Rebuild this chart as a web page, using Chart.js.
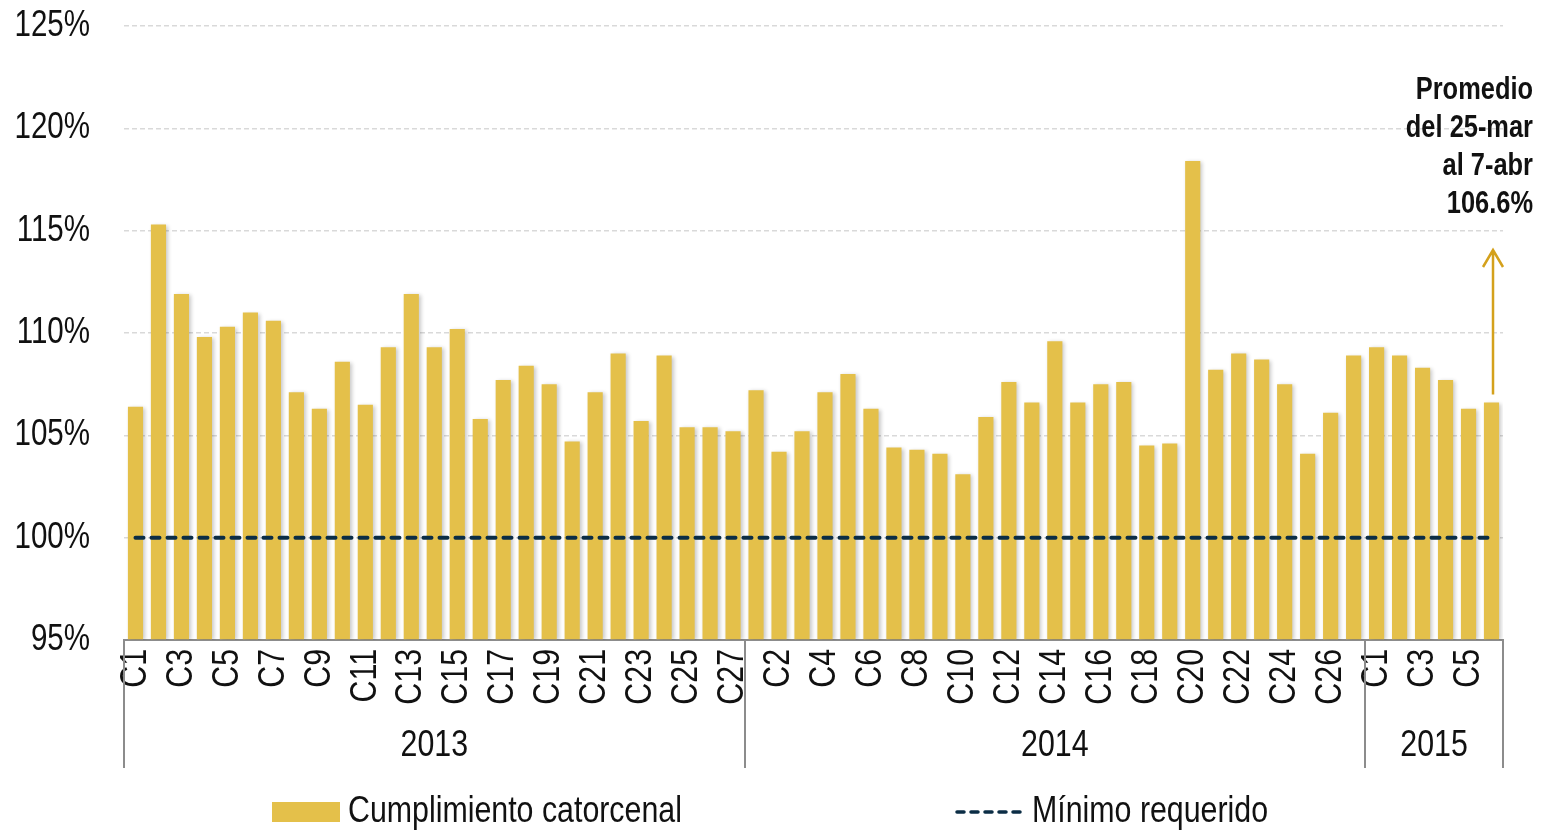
<!DOCTYPE html>
<html>
<head>
<meta charset="utf-8">
<title>Cumplimiento catorcenal</title>
<script src="https://cdn.jsdelivr.net/npm/chart.js@4.4.1/dist/chart.umd.min.js"></script>
<style>
  html, body { margin: 0; padding: 0; background: #fff; }
  #wrap { width: 1555px; height: 834px; }
</style>
</head>
<body>
<div id="wrap"><canvas id="chart"></canvas></div>
<script>
// no hay Arial Narrow: se usa Liberation Sans comprimida en horizontal
const FONT = '"Liberation Sans", Arial, sans-serif';
const NARROW = 0.82;

// datos
const years = ['2013', '2014', '2015'];
const periodsPerYear = [27, 27, 6];
const cumplimiento2013 = [106.4, 115.3, 111.9, 109.8, 110.3, 111.0, 110.6, 107.1, 106.3, 108.6,
  106.5, 109.3, 111.9, 109.3, 110.2, 105.8, 107.7, 108.4, 107.5, 104.7,
  107.1, 109.0, 105.7, 108.9, 105.4, 105.4, 105.2];
const cumplimiento2014 = [107.2, 104.2, 105.2, 107.1, 108.0, 106.3, 104.4, 104.3, 104.1, 103.1,
  105.9, 107.6, 106.6, 109.6, 106.6, 107.5, 107.6, 104.5, 104.6, 118.4,
  108.2, 109.0, 108.7, 107.5, 104.1, 106.1, 108.9];
const cumplimiento2015 = [109.3, 108.9, 108.3, 107.7, 106.3, 106.6];
const minimoRequerido = 100;
const yMin = 95, yMax = 125, yStep = 5;
const annotationLines = ['Promedio', 'del 25-mar', 'al 7-abr', '106.6%'];

const BAR_COLOR = '#E4C04A';
const LINE_COLOR = '#0B2D45';
const ARROW_COLOR = '#D4A11C';

// etiquetas C1..Cn por año
const labels = [];
periodsPerYear.forEach(n => {
  for (let i = 1; i <= n; i++) labels.push('C' + i);
});
const valores = [...cumplimiento2013, ...cumplimiento2014, ...cumplimiento2015];
const minimo = labels.map(() => minimoRequerido);

// todo el texto del canvas se dibuja comprimido (efecto "narrow")
const canvas = document.getElementById('chart');
const context = canvas.getContext('2d');
const rawFillText = CanvasRenderingContext2D.prototype.fillText;
context.fillText = function (text, x, y, maxWidth) {
  this.save();
  this.translate(x, y);
  this.scale(NARROW, 1);
  if (maxWidth === undefined) rawFillText.call(this, text, 0, 0);
  else rawFillText.call(this, text, 0, 0, maxWidth / NARROW);
  this.restore();
};

// sombra suave de las barras
const barShadow = {
  id: 'barShadow',
  beforeDatasetDraw(chart, args) {
    if (args.meta.type !== 'bar') return;
    const ctx = chart.ctx;
    ctx.save();
    ctx.shadowColor = 'rgba(0,0,0,0.22)';
    ctx.shadowBlur = 4;
    ctx.shadowOffsetX = 2;
    ctx.shadowOffsetY = 1;
  },
  afterDatasetDraw(chart, args) {
    if (args.meta.type !== 'bar') return;
    chart.ctx.restore();
  }
};

// años, separadores, leyenda y nota del promedio
const extras = {
  id: 'extras',
  afterDraw(chart) {
    const ctx = chart.ctx;
    const x = chart.scales.x;
    const y = chart.scales.y;
    const area = chart.chartArea;
    const step = x.getPixelForValue(1) - x.getPixelForValue(0);

    ctx.save();
    // separadores de año
    let start = 0;
    const bounds = [x.getPixelForValue(0) - step / 2];
    periodsPerYear.forEach(n => {
      start += n;
      bounds.push(x.getPixelForValue(start - 1) + step / 2);
    });
    ctx.strokeStyle = '#8C8C8C';
    ctx.lineWidth = 2;
    bounds.forEach(b => {
      ctx.beginPath();
      ctx.moveTo(Math.round(b), area.bottom);
      ctx.lineTo(Math.round(b), area.bottom + 128);
      ctx.stroke();
    });
    ctx.fillStyle = '#111';
    ctx.font = '37px ' + FONT;
    ctx.textAlign = 'center';
    ctx.textBaseline = 'middle';
    years.forEach((yr, i) => {
      ctx.fillText(yr, (bounds[i] + bounds[i + 1]) / 2, area.bottom + 106);
    });

    // leyenda
    const ly = 812;
    const barDs = chart.data.datasets[1];
    const lineDs = chart.data.datasets[0];
    ctx.fillStyle = barDs.backgroundColor;
    ctx.fillRect(272, ly - 10, 68, 20);
    ctx.fillStyle = '#111';
    ctx.textAlign = 'left';
    ctx.fillText(barDs.label, 348, ly);
    ctx.strokeStyle = lineDs.borderColor;
    ctx.lineWidth = 3.5;
    ctx.lineCap = 'round';
    ctx.setLineDash([7, 7]);
    ctx.beginPath();
    ctx.moveTo(957, ly);
    ctx.lineTo(1024, ly);
    ctx.stroke();
    ctx.setLineDash([]);
    ctx.fillText(lineDs.label, 1032, ly);

    // nota del promedio
    ctx.font = 'bold 31px ' + FONT;
    ctx.textAlign = 'right';
    annotationLines.forEach((t, i) => {
      ctx.fillText(t, 1533, 90 + i * 38.3);
    });

    // flecha desde la ultima barra
    const last = valores.length - 1;
    const ax = x.getPixelForValue(last) + 1.5;
    const y0 = y.getPixelForValue(valores[last]) - 8;
    const y1 = 250;
    ctx.strokeStyle = ARROW_COLOR;
    ctx.lineWidth = 2.5;
    ctx.lineCap = 'butt';
    ctx.beginPath();
    ctx.moveTo(ax, y0);
    ctx.lineTo(ax, y1);
    ctx.moveTo(ax - 10, y1 + 17);
    ctx.lineTo(ax, y1);
    ctx.lineTo(ax + 10, y1 + 17);
    ctx.stroke();
    ctx.restore();
  }
};

new Chart(canvas, {
  type: 'bar',
  data: {
    labels: labels,
    datasets: [
      {
        type: 'line',
        label: 'Mínimo requerido',
        data: minimo,
        borderColor: LINE_COLOR,
        borderWidth: 4,
        borderDash: [8, 8],
        borderCapStyle: 'round',
        pointRadius: 0,
        fill: false,
        order: 0
      },
      {
        type: 'bar',
        label: 'Cumplimiento catorcenal',
        data: valores,
        backgroundColor: BAR_COLOR,
        base: yMin,
        barPercentage: 0.66,
        categoryPercentage: 1.0,
        order: 1
      }
    ]
  },
  options: {
    responsive: true,
    maintainAspectRatio: false,
    animation: false,
    layout: { padding: { top: 26, right: 52, left: 0, bottom: 0 } },
    plugins: {
      legend: { display: false },
      tooltip: { enabled: false }
    },
    scales: {
      x: {
        grid: { display: false, drawTicks: false },
        border: { display: true, color: '#8C8C8C', width: 2 },
        ticks: {
          autoSkip: false,
          minRotation: 90,
          maxRotation: 90,
          padding: 9,
          color: '#111',
          font: { family: FONT, size: 37 },
          callback: (v, i) => (i % 2 === 0 ? labels[i] : '')
        },
        afterFit: s => { s.height = 194; s.paddingLeft = 0; s.paddingRight = 0; }
      },
      y: {
        min: yMin,
        max: yMax,
        grid: { color: '#D9D9D9', lineWidth: 1.5, drawTicks: false },
        border: { display: false, dash: [5, 3] },
        ticks: {
          stepSize: yStep,
          padding: 34,
          color: '#111',
          font: { family: FONT, size: 36 },
          callback: v => v + '%'
        },
        afterFit: s => { s.width = 124; s.paddingTop = 0; s.paddingBottom = 0; }
      }
    }
  },
  plugins: [barShadow, extras]
});
</script>
</body>
</html>
